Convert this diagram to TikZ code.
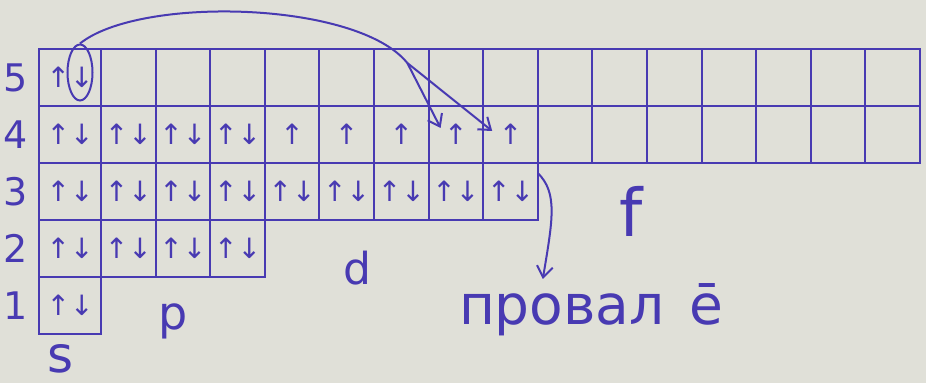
\documentclass[tikz,border=0pt]{standalone}
\usepackage{fontspec}
\setmainfont{DejaVu Sans}
\usetikzlibrary{arrows.meta,positioning,matrix,shapes.geometric}

\definecolor{ink}{RGB}{72,58,178}
\definecolor{paper}{RGB}{224,224,216}

\begin{document}
\begin{tikzpicture}[
  x=1pt, y=1pt,
  cell/.style={draw=ink, line width=2pt, minimum height=57pt, minimum width=54.6pt, inner sep=0pt, outer sep=0pt, anchor=center, text=ink, font=\fontsize{28}{28}\selectfont},
  lbl/.style={text=ink, inner sep=0pt, font=\fontsize{38}{38}\selectfont},
  flow/.style={-{Straight Barb[length=11pt,width=16pt]}, line width=2pt, draw=ink},
  ring/.style={ellipse, draw=ink, line width=2pt, minimum width=25pt, minimum height=56pt, inner sep=0pt},
  % negative sep so that neighbouring borders fall on one line
  block/.style={matrix of nodes, nodes={cell}, row sep=-2pt, column sep=-2pt, inner sep=0pt, outer sep=0pt, nodes in empty cells},
]
\path[use as bounding box, fill=paper] (0,0) rectangle (926,383);

% s block
\matrix[block, nodes={minimum width=62pt}, anchor=north west] (s) at (38,335) {
  ↑↓ \\
  ↑↓ \\
  ↑↓ \\
  ↑↓ \\
  ↑↓ \\
};

% p block
\matrix[block, below right=0pt and -2pt of s.north east] (p) {
     &    &    \\
  ↑↓ & ↑↓ & ↑↓ \\
  ↑↓ & ↑↓ & ↑↓ \\
  ↑↓ & ↑↓ & ↑↓ \\
};

% d block
\matrix[block, below right=0pt and -2pt of p.north east] (d) {
     &    &    &    &    \\
  ↑  & ↑  & ↑  & ↑  & ↑  \\
  ↑↓ & ↑↓ & ↑↓ & ↑↓ & ↑↓ \\
};

% f block
\matrix[block, below right=0pt and -2pt of d.north east] (f) {
  & & & & & & \\
  & & & & & & \\
};

% shell numbers
\foreach \n [count=\r] in {5,4,3,2,1}
  \node[lbl, left=11pt of s-\r-1.west] (n\n) {\n};

% block names
\node[lbl, font=\fontsize{50}{50}\selectfont, below=9pt of s.south, xshift=-9pt] (slbl) {s};
\node[lbl, font=\fontsize{46}{46}\selectfont, below=27pt of p-4-2.south, xshift=-10pt] (plbl) {p};
\node[lbl, font=\fontsize{44}{44}\selectfont, below=31pt of d-3-2.south, xshift=11pt] (dlbl) {d};
\node[lbl, font=\fontsize{66}{66}\selectfont, below=23pt of f-2-2.south, xshift=11pt] (flbl) {f};
\node[lbl, font=\fontsize{55}{55}\selectfont, below right=62pt and -80pt of d.south east] (drop) {провал\hspace{0.45em}ē};

% the 5s electron that drops into 4d
\node[ring] (ring) at ([shift={(10pt,5pt)}]s-1-1.center) {};
\coordinate (fork) at ([shift={(6pt,-14pt)}]d-1-3.north);
\coordinate (tipa) at ([shift={(12pt,-22pt)}]d-2-4.north west);
\coordinate (tipb) at ([shift={(9pt,-25pt)}]d-2-5.north west);
\draw[ink, line width=2pt] (ring.north) .. controls +(60,48) and +(-50,62) .. (fork);
\draw[flow] (fork) -- (tipa);
\draw[flow] (fork) -- (tipb);

\coordinate (droptip) at ([shift={(84pt,4pt)}]drop.north west);
\draw[flow] ([yshift=-10pt]d-3-5.north east) .. controls +(20,-20) and +(10,60) .. (droptip);

\end{tikzpicture}
\end{document}
